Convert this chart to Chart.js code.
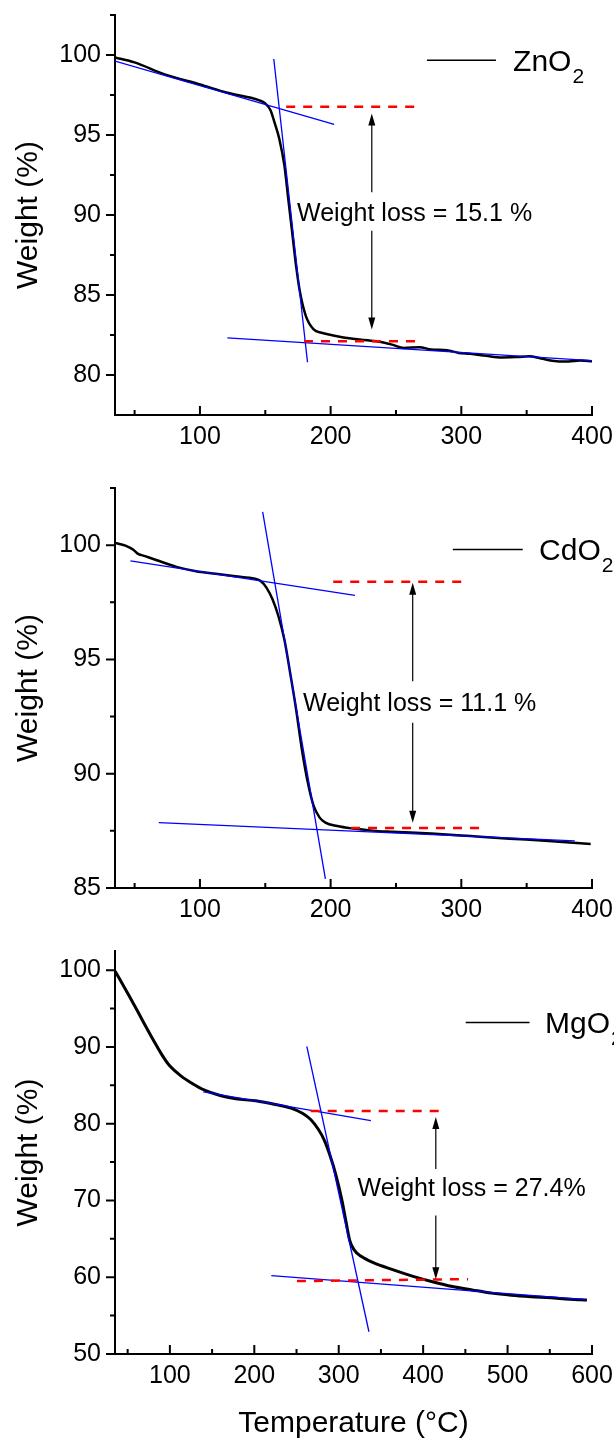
<!DOCTYPE html>
<html lang="en">
<head>
    <meta charset="UTF-8">
    <title>TGA curves of ZnO2, CdO2 and MgO2</title>
    <style>
        body {
            margin: 0;
            background: #fff;
        }
        #wrap {
            position: relative;
            width: 614px;
            height: 1438px;
        }
        canvas {
            position: absolute;
            left: 0;
        }
    </style>
</head>
<body>
    <div id="wrap">
        <canvas id="zno2" width="614" height="450" style="top:0"></canvas>
        <canvas id="cdo2" width="614" height="460" style="top:460px"></canvas>
        <canvas id="mgo2" width="614" height="518" style="top:920px"></canvas>
    </div>

    <script src="https://cdn.jsdelivr.net/npm/chart.js"></script>
    <script>
        // ZnO2 panel
        const znTemp = [35, 50, 73, 100, 121, 145, 150, 154, 157, 160.7, 164.6, 167.6, 170.6, 173.6, 176.6, 181, 187, 193, 202, 217, 235, 247, 256, 268, 277, 289, 298, 307, 319, 331, 343, 352, 361, 373, 382, 391, 400];
        const znWeight = [99.85, 99.54, 98.79, 98.16, 97.64, 97.18, 96.97, 96.55, 95.8, 94.77, 93.1, 91.0, 88.9, 86.8, 85.15, 83.7, 82.85, 82.64, 82.47, 82.26, 82.11, 81.9, 81.69, 81.74, 81.59, 81.55, 81.38, 81.32, 81.2, 81.1, 81.13, 81.17, 81.03, 80.86, 80.84, 80.9, 80.86];
        const znTanUpperX = [35, 202.7], znTanUpperY = [99.62, 95.67];
        const znTanSteepX = [156.5, 182.3], znTanSteepY = [99.75, 80.8];
        const znTanLowerX = [121, 400], znTanLowerY = [82.32, 80.9];
        const znDashUpperX = [166, 265], znDashUpperY = [96.76, 96.76];
        const znDashLowerX = [179.6, 269.7], znDashLowerY = [82.11, 82.11];
        const znArrow = [231.5, 96.34, 91.42, 89.02, 82.85];   // x, top tip, gap start, gap end, bottom tip
        const znLabelAt = [174.3, 90.06];
        const znLegendAt = [273.7, 326.5, 99.67, 339.6];        // line x1, x2, y, text x
        const znXTicks = [100, 200, 300, 400], znXMinor = [50, 150, 250, 350];
        const znYTicks = [80, 85, 90, 95, 100], znYMinor = [82.5, 87.5, 92.5, 97.5, 102.5];

        // CdO2 panel
        const cdTemp = [35, 43, 49, 52, 58, 67, 82, 97, 112, 127, 142, 146.5, 151, 155.6, 160, 164.6, 169, 173.6, 178, 182.6, 187, 191.6, 196, 205, 217, 232, 247, 277, 307, 337, 367, 399];
        const cdWeight = [100.1, 99.98, 99.8, 99.64, 99.52, 99.34, 99.05, 98.86, 98.75, 98.64, 98.53, 98.43, 98.13, 97.62, 96.9, 95.87, 94.42, 92.81, 91.06, 89.6, 88.59, 88.08, 87.86, 87.71, 87.6, 87.51, 87.46, 87.38, 87.27, 87.16, 87.06, 86.92];
        const cdTanUpperX = [46.8, 218.6], cdTanUpperY = [99.31, 97.8];
        const cdTanSteepX = [148, 196], cdTanSteepY = [101.46, 85.4];
        const cdTanLowerX = [68.5, 386.8], cdTanLowerY = [87.86, 87.06];
        const cdDashUpperX = [202, 305.7], cdDashUpperY = [98.4, 98.4];
        const cdDashLowerX = [215.6, 319], cdDashLowerY = [87.62, 87.62];
        const cdArrow = [262.8, 98.35, 94.05, 92.23, 87.86];
        const cdLabelAt = [178.9, 93.03];
        const cdLegendAt = [293.5, 347, 99.81, 359.5];
        const cdXTicks = [100, 200, 300, 400], cdXMinor = [50, 150, 250, 350];
        const cdYTicks = [85, 90, 95, 100], cdYMinor = [87.5, 92.5, 97.5, 102.5];

        // MgO2 panel
        const mgTemp = [35.2, 43, 52.5, 61.8, 71, 80.4, 89.7, 99, 113, 127, 141, 159.6, 178, 201.6, 225, 243.5, 257.5, 266.8, 276, 283, 290, 297, 304, 308.8, 313, 318, 327, 341, 364.7, 388, 411, 434.6, 458, 481, 504.5, 527.8, 551, 574, 594];
        const mgWeight = [99.86, 98.37, 96.5, 94.64, 92.77, 90.9, 89.13, 87.64, 86.24, 85.21, 84.37, 83.67, 83.25, 82.98, 82.51, 82.04, 81.34, 80.55, 79.24, 77.84, 75.75, 73.18, 69.92, 67.12, 64.8, 63.6, 62.69, 61.89, 60.96, 60.12, 59.42, 58.8, 58.35, 57.93, 57.65, 57.46, 57.32, 57.14, 57.04];
        const mgTanUpperX = [139.6, 338.1], mgTanUpperY = [84.14, 80.41];
        const mgTanSteepX = [262.2, 335.8], mgTanSteepY = [90.07, 52.9];
        const mgTanLowerX = [220.2, 593], mgTanLowerY = [60.21, 57.09];
        const mgDashUpperX = [266.8, 427.6], mgDashUpperY = [81.67, 81.67];
        const mgDashLowerX = [250.5, 453.2], mgDashLowerY = [59.5, 59.75];
        const mgArrow = [415, 80.88, 74.1, 68.05, 59.75];
        const mgLabelAt = [322.3, 71.5];
        const mgLegendAt = [450.4, 526, 93.2, 544.4];
        const mgXTicks = [100, 200, 300, 400, 500, 600], mgXMinor = [50, 150, 250, 350, 450, 550];
        const mgYTicks = [50, 60, 70, 80, 90, 100], mgYMinor = [55, 65, 75, 85, 95];

        const FONT = '"Liberation Sans", Arial, sans-serif';

        function pts(xs, ys) {
            return xs.map((x, i) => ({ x: x, y: ys[i] }));
        }

        // ticks, arrow, note and legend drawn on top of the plot
        const decor = {
            id: 'decor',
            afterDraw(chart, args, o) {
                const ctx = chart.ctx, sx = chart.scales.x, sy = chart.scales.y, a = chart.chartArea;
                ctx.save();
                ctx.strokeStyle = '#000';
                ctx.lineWidth = 2;
                ctx.beginPath();
                o.xMajor.forEach(v => { const p = sx.getPixelForValue(v); ctx.moveTo(p, a.bottom); ctx.lineTo(p, a.bottom - 9); });
                o.xMinor.forEach(v => { const p = sx.getPixelForValue(v); ctx.moveTo(p, a.bottom); ctx.lineTo(p, a.bottom - 5); });
                o.yMajor.forEach(v => { const p = sy.getPixelForValue(v); ctx.moveTo(a.left, p); ctx.lineTo(a.left - 9, p); });
                o.yMinor.forEach(v => { const p = sy.getPixelForValue(v); ctx.moveTo(a.left, p); ctx.lineTo(a.left - 5, p); });
                ctx.stroke();

                // double arrow with a gap for the text
                const ax = sx.getPixelForValue(o.arrow[0]);
                const ay = o.arrow.slice(1).map(v => sy.getPixelForValue(v));
                ctx.lineWidth = 1.2;
                ctx.beginPath();
                ctx.moveTo(ax, ay[0] + 6); ctx.lineTo(ax, ay[1]);
                ctx.moveTo(ax, ay[2]); ctx.lineTo(ax, ay[3] - 6);
                ctx.stroke();
                ctx.fillStyle = '#000';
                ctx.beginPath();
                ctx.moveTo(ax, ay[0]); ctx.lineTo(ax - 3.5, ay[0] + 12); ctx.lineTo(ax + 3.5, ay[0] + 12); ctx.closePath();
                ctx.moveTo(ax, ay[3]); ctx.lineTo(ax - 3.5, ay[3] - 12); ctx.lineTo(ax + 3.5, ay[3] - 12); ctx.closePath();
                ctx.fill();

                ctx.font = '25px ' + FONT;
                ctx.textAlign = 'left';
                ctx.textBaseline = 'middle';
                ctx.fillText(o.label, sx.getPixelForValue(o.labelAt[0]), sy.getPixelForValue(o.labelAt[1]));

                // legend
                const lg = o.legendAt;
                const ly = sy.getPixelForValue(lg[2]);
                ctx.lineWidth = 1.5;
                ctx.beginPath();
                ctx.moveTo(sx.getPixelForValue(lg[0]), ly);
                ctx.lineTo(sx.getPixelForValue(lg[1]), ly);
                ctx.stroke();
                const tx = sx.getPixelForValue(lg[3]);
                ctx.textBaseline = 'alphabetic';
                ctx.font = '30px ' + FONT;
                ctx.fillText(o.name, tx, ly + 11);
                const w = ctx.measureText(o.name).width;
                ctx.font = '21px ' + FONT;
                ctx.fillText('2', tx + w + 1, ly + 23);
                ctx.restore();
            }
        };

        function makeChart(id, p) {
            const line = (data, color, width, order, dash) => ({
                data: data, showLine: true, borderColor: color, borderWidth: width,
                borderDash: dash || [], pointRadius: 0, order: order
            });
            const datasets = [
                Object.assign(line(pts(p.temp, p.weight), '#000', p.curveWidth, 3), { cubicInterpolationMode: 'monotone' }),
                ...p.tangents.map(t => line(pts(t[0], t[1]), '#0000ff', 1.3, 2)),
                ...p.dashes.map(d => line(pts(d[0], d[1]), '#ff0000', 2.5, 1, [9, 8]))
            ];
            return new Chart(document.getElementById(id), {
                type: 'scatter',
                data: { datasets: datasets },
                plugins: [decor],
                options: {
                    responsive: false,
                    animation: false,
                    events: [],
                    layout: { padding: { top: p.padTop, right: 22, left: 0, bottom: 0 } },
                    plugins: {
                        legend: { display: false },
                        tooltip: { enabled: false },
                        decor: {
                            xMajor: p.xTicks, xMinor: p.xMinor, yMajor: p.yTicks, yMinor: p.yMinor,
                            arrow: p.arrow, label: p.label, labelAt: p.labelAt,
                            legendAt: p.legendAt, name: p.name
                        }
                    },
                    scales: {
                        x: {
                            type: 'linear',
                            min: p.xMin, max: p.xMax,
                            afterBuildTicks: s => { s.ticks = p.xTicks.map(v => ({ value: v })); },
                            afterFit: s => { s.height = p.xHeight; s.paddingLeft = 0; s.paddingRight = 0; },
                            grid: { display: false, drawTicks: false },
                            border: { display: true, color: '#000', width: 2 },
                            ticks: { color: '#000', padding: 7, maxRotation: 0, font: { family: FONT, size: 25 } },
                            title: {
                                display: !!p.xTitle, text: p.xTitle || '', color: '#000',
                                padding: { top: 0, bottom: -4 }, font: { family: FONT, size: 30 }
                            }
                        },
                        y: {
                            min: p.yMin, max: p.yMax,
                            afterBuildTicks: s => { s.ticks = p.yTicks.map(v => ({ value: v })); },
                            afterFit: s => { s.width = 115; s.paddingTop = 0; s.paddingBottom = 0; },
                            grid: { display: false, drawTicks: false },
                            border: { display: true, color: '#000', width: 2 },
                            ticks: { color: '#000', padding: 14, font: { family: FONT, size: 25 } },
                            title: {
                                display: true, text: 'Weight (%)', color: '#000',
                                padding: { top: 11, bottom: 0 }, font: { family: FONT, size: 30 }
                            }
                        }
                    }
                }
            });
        }

        makeChart('zno2', {
            temp: znTemp, weight: znWeight, curveWidth: 2.5,
            tangents: [[znTanUpperX, znTanUpperY], [znTanSteepX, znTanSteepY], [znTanLowerX, znTanLowerY]],
            dashes: [[znDashUpperX, znDashUpperY], [znDashLowerX, znDashLowerY]],
            xMin: 35, xMax: 400, yMin: 77.5, yMax: 102.5,
            xTicks: znXTicks, xMinor: znXMinor, yTicks: znYTicks, yMinor: znYMinor,
            arrow: znArrow, label: 'Weight loss = 15.1 %', labelAt: znLabelAt,
            legendAt: znLegendAt, name: 'ZnO',
            padTop: 15, xHeight: 35
        });

        makeChart('cdo2', {
            temp: cdTemp, weight: cdWeight, curveWidth: 2.5,
            tangents: [[cdTanUpperX, cdTanUpperY], [cdTanSteepX, cdTanSteepY], [cdTanLowerX, cdTanLowerY]],
            dashes: [[cdDashUpperX, cdDashUpperY], [cdDashLowerX, cdDashLowerY]],
            xMin: 35, xMax: 400, yMin: 85, yMax: 102.5,
            xTicks: cdXTicks, xMinor: cdXMinor, yTicks: cdYTicks, yMinor: cdYMinor,
            arrow: cdArrow, label: 'Weight loss = 11.1 %', labelAt: cdLabelAt,
            legendAt: cdLegendAt, name: 'CdO',
            padTop: 28, xHeight: 32
        });

        makeChart('mgo2', {
            temp: mgTemp, weight: mgWeight, curveWidth: 3,
            tangents: [[mgTanUpperX, mgTanUpperY], [mgTanSteepX, mgTanSteepY], [mgTanLowerX, mgTanLowerY]],
            dashes: [[mgDashUpperX, mgDashUpperY], [mgDashLowerX, mgDashLowerY]],
            xMin: 35, xMax: 600, yMin: 50, yMax: 102.5,
            xTicks: mgXTicks, xMinor: mgXMinor, yTicks: mgYTicks, yMinor: mgYMinor,
            arrow: mgArrow, label: 'Weight loss = 27.4%', labelAt: mgLabelAt,
            legendAt: mgLegendAt, name: 'MgO',
            padTop: 31, xHeight: 84, xTitle: 'Temperature (°C)'
        });
    </script>
</body>
</html>
